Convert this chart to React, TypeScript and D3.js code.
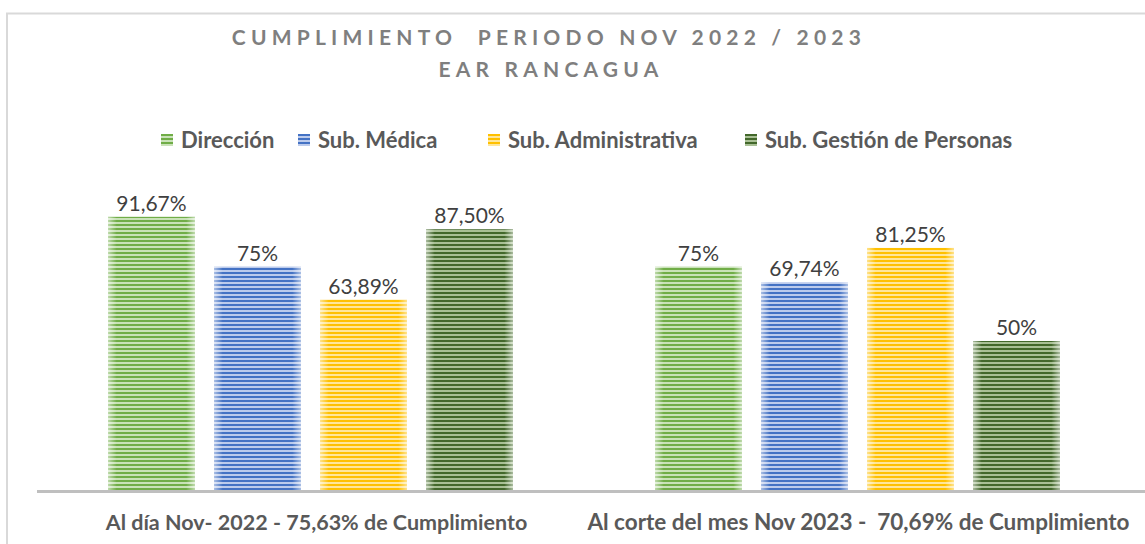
import { useEffect, useRef } from 'react';
import * as d3 from 'd3';

const categories = [
  'Al día Nov- 2022 - 75,63% de Cumplimiento',
  'Al corte del mes Nov 2023 -  70,69% de Cumplimiento',
];
const seriesNames = ['Dirección', 'Sub. Médica', 'Sub. Administrativa', 'Sub. Gestión de Personas'];
const direccion = [91.67, 75];
const subMedica = [75, 69.74];
const subAdministrativa = [63.89, 81.25];
const subGestion = [87.5, 50];
const valueLabels = [
  ['91,67%', '75%'],
  ['75%', '69,74%'],
  ['63,89%', '81,25%'],
  ['87,50%', '50%'],
];
const colors = ['#70ad47', '#4472c4', '#ffc000', '#43682b'];
const lightColors = ['#c9e2b8', '#bccbec', '#ffe699', '#a9c095'];

const W = 1145;
const H = 544;
const FONT = 'Lato, "Open Sans", sans-serif';

export default function App() {
  const ref = useRef<SVGSVGElement>(null);

  useEffect(() => {
    if (!ref.current) return;
    const svg = d3.select(ref.current);
    svg.selectAll('*').remove();

    const values = [direccion, subMedica, subAdministrativa, subGestion];
    const margin = { left: 37, right: 14, top: 192, bottom: 54 };
    const baseY = H - margin.bottom;

    const x0 = d3.scaleBand<number>().domain([0, 1]).range([margin.left, W - margin.right]).paddingInner(0).paddingOuter(0);
    const x1 = d3.scaleBand<number>().domain([0, 1, 2, 3]).range([71, 476]).paddingInner(0.18).paddingOuter(0);
    const y = d3.scaleLinear().domain([0, 100]).range([baseY, margin.top]);

    const defs = svg.append('defs');
    colors.forEach((c, i) => {
      const p = defs.append('pattern')
        .attr('id', `stripe-${i}`)
        .attr('patternUnits', 'userSpaceOnUse')
        .attr('width', 8)
        .attr('height', 4);
      p.append('rect').attr('width', 8).attr('height', 4).attr('fill', c);
      p.append('rect').attr('y', 2).attr('width', 8).attr('height', 2).attr('fill', lightColors[i]);
    });
    const edge = defs.append('linearGradient').attr('id', 'edge-fade');
    edge.append('stop').attr('offset', '0%').attr('stop-color', '#fff').attr('stop-opacity', 0.55);
    edge.append('stop').attr('offset', '10%').attr('stop-color', '#fff').attr('stop-opacity', 0);
    edge.append('stop').attr('offset', '90%').attr('stop-color', '#fff').attr('stop-opacity', 0);
    edge.append('stop').attr('offset', '100%').attr('stop-color', '#fff').attr('stop-opacity', 0.55);

    // chart frame
    svg.append('path')
      .attr('d', `M7,${H} V13.5 H${W}`)
      .attr('fill', 'none')
      .attr('stroke', '#d9d9d9')
      .attr('stroke-width', 2);

    // title
    const title = svg.append('text')
      .attr('text-anchor', 'middle')
      .attr('font-family', FONT)
      .attr('font-weight', 700)
      .attr('font-size', 21)
      .attr('letter-spacing', '5.2px')
      .attr('fill', '#7f7f7f')
      .style('white-space', 'pre');
    title.append('tspan').attr('x', 549).attr('y', 45).text('CUMPLIMIENTO  PERIODO NOV 2022 / 2023');
    title.append('tspan').attr('x', 551).attr('y', 77).text('EAR RANCAGUA');

    // legend
    const legendX = [161, 298, 488, 745];
    seriesNames.forEach((name, i) => {
      const g = svg.append('g').attr('transform', `translate(${legendX[i]},134)`);
      g.append('rect').attr('width', 12).attr('height', 12).attr('fill', `url(#stripe-${i})`);
      g.append('text')
        .attr('x', 20)
        .attr('y', 14)
        .attr('font-family', FONT)
        .attr('font-weight', 700)
        .attr('font-size', 22)
        .attr('fill', '#595959')
        .text(name);
    });

    // bars
    values.forEach((vals, s) => {
      vals.forEach((v, c) => {
        const bx = x0(c)! + x1(s)!;
        const by = y(v);
        const bw = x1.bandwidth();
        const bh = baseY - by;
        svg.append('rect').attr('x', bx).attr('y', by).attr('width', bw).attr('height', bh)
          .attr('fill', `url(#stripe-${s})`);
        svg.append('rect').attr('x', bx).attr('y', by).attr('width', bw).attr('height', bh)
          .attr('fill', 'url(#edge-fade)');
        svg.append('text')
          .attr('x', bx + bw / 2)
          .attr('y', by - 6)
          .attr('text-anchor', 'middle')
          .attr('font-family', FONT)
          .attr('font-size', 21)
          .attr('fill', '#404040')
          .text(valueLabels[s][c]);
      });
    });

    // axis
    svg.append('line')
      .attr('x1', margin.left).attr('x2', W)
      .attr('y1', baseY + 1.5).attr('y2', baseY + 1.5)
      .attr('stroke', '#bfbfbf')
      .attr('stroke-width', 3);

    const catSizes = [21.5, 22.5];
    const catShift = [6, 1];
    categories.forEach((cat, c) => {
      svg.append('text')
        .attr('x', x0(c)! + x0.bandwidth() / 2 + catShift[c])
        .attr('y', 530)
        .attr('text-anchor', 'middle')
        .attr('font-family', FONT)
        .attr('font-weight', 700)
        .attr('font-size', catSizes[c])
        .attr('fill', '#595959')
        .style('white-space', 'pre')
        .text(cat);
    });
  }, []);

  return (
    <svg
      ref={ref}
      width={W}
      height={H}
      style={{ position: 'absolute', left: 0, top: 0, background: '#fff' }}
    />
  );
}
